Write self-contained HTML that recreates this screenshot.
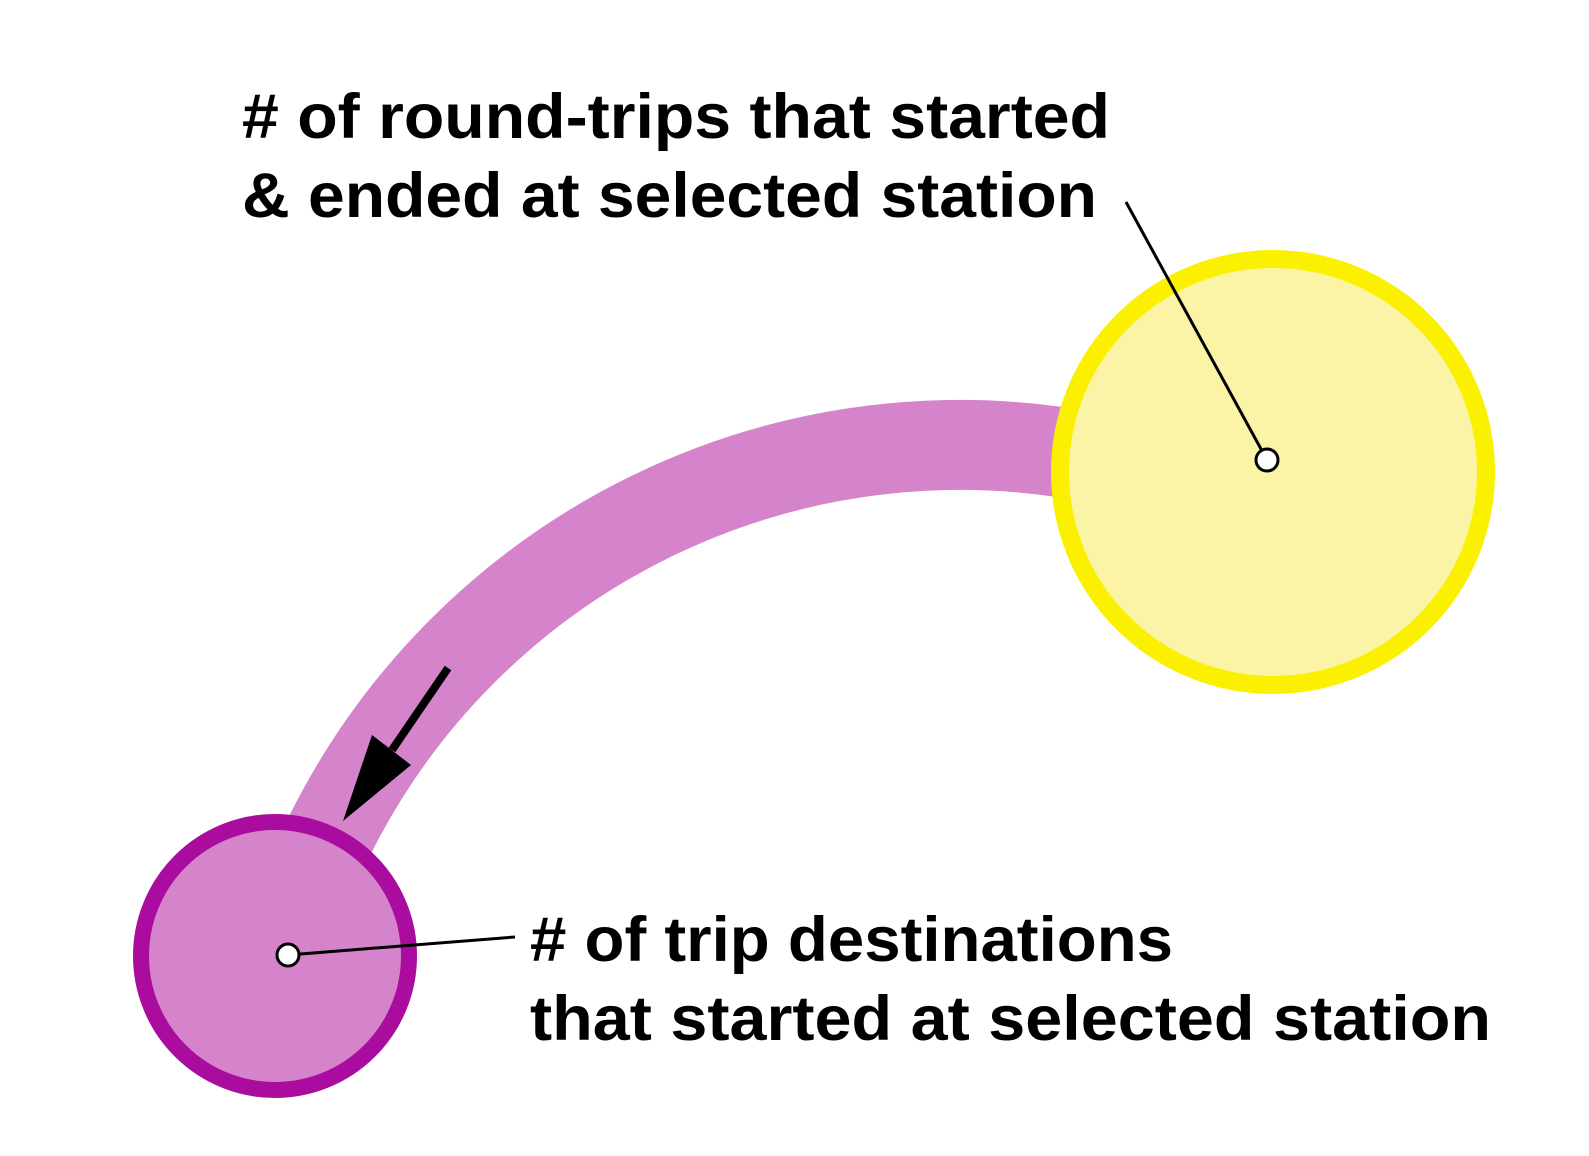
<!DOCTYPE html>
<html><head><meta charset="utf-8"><style>
html,body{margin:0;padding:0;background:#fff;}
svg{display:block;}
text{font-family:"Liberation Sans",Arial,sans-serif;font-weight:bold;font-size:63px;fill:#000;}
</style></head><body>
<svg width="1589" height="1156" viewBox="0 0 1589 1156">
  <path d="M 1100 459 A 704 704 0 0 0 330 835" fill="none" stroke="#D584CB" stroke-width="90"/>
  <circle cx="1273" cy="472" r="213" fill="#FBF4A6" stroke="#FAF000" stroke-width="18"/>
  <circle cx="275" cy="956" r="134" fill="#D584CB" stroke="#A90C9F" stroke-width="16"/>
  <g>
    <line x1="448" y1="668" x2="392" y2="750" stroke="#000" stroke-width="8"/>
    <polygon points="343,821 372,735 411,765" fill="#000"/>
  </g>
  <g>
    <line x1="1126" y1="202" x2="1267" y2="460" stroke="#000" stroke-width="3"/>
    <circle cx="1267" cy="460" r="11" fill="#fff" stroke="#000" stroke-width="3"/>
  </g>
  <g>
    <line x1="515" y1="937" x2="288" y2="955" stroke="#000" stroke-width="3"/>
    <circle cx="288" cy="955" r="11" fill="#fff" stroke="#000" stroke-width="3"/>
  </g>
  <text x="242" y="138" textLength="868" lengthAdjust="spacingAndGlyphs"># of round-trips that started</text>
  <text x="242" y="217" textLength="855" lengthAdjust="spacingAndGlyphs">&amp; ended at selected station</text>
  <text x="530" y="961" textLength="643" lengthAdjust="spacingAndGlyphs"># of trip destinations</text>
  <text x="530" y="1040" textLength="961" lengthAdjust="spacingAndGlyphs">that started at selected station</text>
</svg>
</body></html>
